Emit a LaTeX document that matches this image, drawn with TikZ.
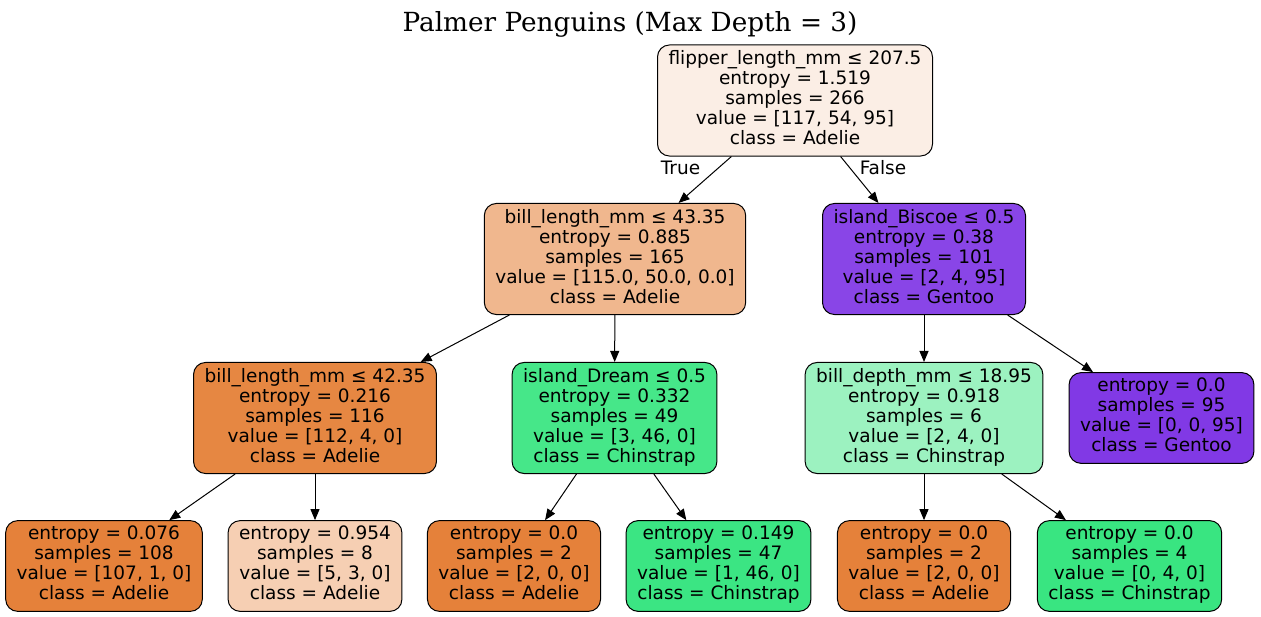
\documentclass[tikz,border=0pt]{standalone}
\usepackage{fontspec}
\setmainfont{DejaVu Sans}
\newfontfamily\titlefont{DejaVu Serif}
\usetikzlibrary{arrows.meta}

\definecolor{adroot}{HTML}{FBEEE5}
\definecolor{adlight}{HTML}{F0B78E}
\definecolor{adpale}{HTML}{F6CFB3}
\definecolor{adfull}{HTML}{E5813A}
\definecolor{admid}{HTML}{E68742}
\definecolor{chdream}{HTML}{46E789}
\definecolor{chfull}{HTML}{3BE583}
\definecolor{chfour}{HTML}{39E581}
\definecolor{chpale}{HTML}{9CF2C0}
\definecolor{gebis}{HTML}{8945E7}
\definecolor{gefull}{HTML}{8139E5}

\begin{document}
\begin{tikzpicture}[x=1pt,y=-1pt, font=\fontsize{18.5}{20}\selectfont,
  box/.style={draw, rounded corners=12pt, line width=1pt, align=center,
    inner xsep=11pt, inner ysep=5.5pt,
    execute at begin node=\strut, execute at end node=\strut},
  edge/.style={-{Triangle[length=11pt,width=9pt]}, line width=1pt}]
\useasboundingbox (0,0) rectangle (1261,617);

\node[anchor=base] (titolo) at (630,32) {\titlefont\fontsize{26.3}{30}\selectfont Palmer Penguins (Max Depth = 3)};

% livello 0 e 1
\node[box, fill=adroot] (root) at (795,100.5) {flipper\_length\_mm ≤ 207.5\\entropy = 1.519\\samples = 266\\value = [117, 54, 95]\\class = Adelie};
\node[box, fill=adlight] (bl43) at (615,259) {bill\_length\_mm ≤ 43.35\\entropy = 0.885\\samples = 165\\value = [115.0, 50.0, 0.0]\\class = Adelie};
\node[box, fill=gebis] (isb) at (924,259) {island\_Biscoe ≤ 0.5\\entropy = 0.38\\samples = 101\\value = [2, 4, 95]\\class = Gentoo};

% livello 2
\node[box, fill=admid] (bl42) at (315,418) {bill\_length\_mm ≤ 42.35\\entropy = 0.216\\samples = 116\\value = [112, 4, 0]\\class = Adelie};
\node[box, fill=chdream] (isd) at (614.5,418) {island\_Dream ≤ 0.5\\entropy = 0.332\\samples = 49\\value = [3, 46, 0]\\class = Chinstrap};
\node[box, fill=chpale] (bd) at (924,418) {bill\_depth\_mm ≤ 18.95\\entropy = 0.918\\samples = 6\\value = [2, 4, 0]\\class = Chinstrap};
\node[box, fill=gefull] (g95) at (1161.5,418) {entropy = 0.0\\samples = 95\\value = [0, 0, 95]\\class = Gentoo};

% foglie
\node[box, fill=adfull] (f1) at (104,566) {entropy = 0.076\\samples = 108\\value = [107, 1, 0]\\class = Adelie};
\node[box, fill=adpale] (f2) at (315,566) {entropy = 0.954\\samples = 8\\value = [5, 3, 0]\\class = Adelie};
\node[box, fill=adfull] (f3) at (514,566) {entropy = 0.0\\samples = 2\\value = [2, 0, 0]\\class = Adelie};
\node[box, fill=chfull] (f4) at (718.5,566) {entropy = 0.149\\samples = 47\\value = [1, 46, 0]\\class = Chinstrap};
\node[box, fill=adfull] (f5) at (924,566) {entropy = 0.0\\samples = 2\\value = [2, 0, 0]\\class = Adelie};
\node[box, fill=chfour] (f6) at (1129.5,566) {entropy = 0.0\\samples = 4\\value = [0, 4, 0]\\class = Chinstrap};

\foreach \a/\b in {root/bl43,root/isb,bl43/bl42,bl43/isd,isb/bd,isb/g95,bl42/f1,bl42/f2,isd/f3,isd/f4,bd/f5,bd/f6}
\draw[edge] (\a)--(\b);

\node (vero) at (680.5,168) {True};
\node (falso) at (883,168) {False};

\end{tikzpicture}
\end{document}
